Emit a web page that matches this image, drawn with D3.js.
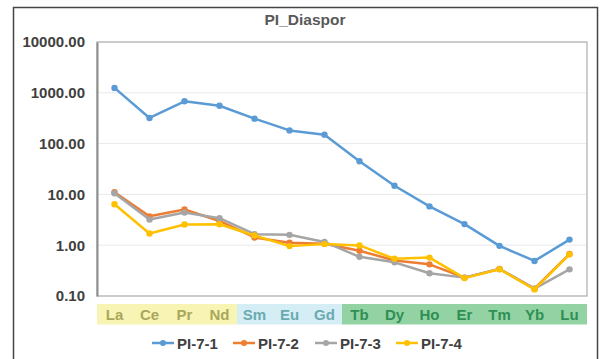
<!DOCTYPE html>
<html>
<head>
<meta charset="utf-8">
<script src="https://cdn.jsdelivr.net/npm/d3@7"></script>
<style>
  html, body { margin: 0; padding: 0; background: #fff; }
  svg { display: block; font-family: "Liberation Sans", Arial, sans-serif; }
</style>
</head>
<body>
<svg id="chart" width="601" height="359"></svg>
<script>
// Rare earth elements, chondrite-normalised
const elements = ["La","Ce","Pr","Nd","Sm","Eu","Gd","Tb","Dy","Ho","Er","Tm","Yb","Lu"];
const seriesNames = ["PI-7-1","PI-7-2","PI-7-3","PI-7-4"];
const pi71 = [1250, 320, 680, 555, 310, 182, 150, 45, 14.8, 5.8, 2.6, 0.97, 0.49, 1.29];
const pi72 = [11, 3.7, 5.05, 3.0, 1.42, 1.12, 1.07, 0.78, 0.5, 0.42, 0.23, 0.34, 0.14, 0.67];
const pi73 = [10.5, 3.2, 4.4, 3.4, 1.65, 1.6, 1.16, 0.59, 0.46, 0.28, 0.23, 0.34, 0.14, 0.335];
const pi74 = [6.4, 1.7, 2.56, 2.58, 1.55, 0.96, 1.05, 0.99, 0.54, 0.57, 0.225, 0.336, 0.135, 0.66];
const yTicks = [10000, 1000, 100, 10, 1, 0.1];
const groups = [
  { from: "La", to: "Nd", fill: "#f8f4b3", text: "#a8a85c" },
  { from: "Sm", to: "Gd", fill: "#d5eef5", text: "#6aaab0" },
  { from: "Tb", to: "Lu", fill: "#93d3a3", text: "#2f8f55" }
];
const colors = ["#5b9bd5", "#ed7d31", "#a5a5a5", "#ffc000"];
const seriesData = [pi71, pi72, pi73, pi74];

const svg = d3.select("#chart");
const plot = { left: 97, right: 587, top: 42, bottom: 296 };

// outer frame
svg.append("rect")
  .attr("x", 13.5).attr("y", 7.5).attr("width", 584).attr("height", 360)
  .attr("fill", "#fff").attr("stroke", "#444").attr("stroke-width", 1.5);

const x = d3.scaleBand().domain(elements).range([plot.left, plot.right]).padding(0);
const y = d3.scaleLog().domain([0.1, 10000]).range([plot.bottom, plot.top]);

// title
svg.append("text")
  .attr("x", 305).attr("y", 25)
  .attr("text-anchor", "middle")
  .attr("font-size", 15.5).attr("font-weight", "bold")
  .attr("fill", "#595959")
  .text("PI_Diaspor");

// gridlines
svg.append("g")
  .selectAll("line")
  .data(yTicks)
  .join("line")
  .attr("x1", plot.left).attr("x2", plot.right)
  .attr("y1", d => y(d)).attr("y2", d => y(d))
  .attr("stroke", "#e9e9e9").attr("stroke-width", 1);

// plot border
svg.append("rect")
  .attr("x", plot.left).attr("y", plot.top)
  .attr("width", plot.right - plot.left).attr("height", plot.bottom - plot.top)
  .attr("fill", "none").attr("stroke", "#b0b0b0").attr("stroke-width", 1.2);

// y axis
const yAxis = d3.axisLeft(y).tickValues(yTicks).tickFormat(d3.format(".2f")).tickSize(0).tickPadding(12);
const yg = svg.append("g").attr("transform", `translate(${plot.left},0)`).call(yAxis);
yg.select(".domain").attr("stroke", "#8c8c8c").attr("stroke-width", 2);
yg.selectAll("text")
  .attr("font-size", 15).attr("font-weight", "bold")
  .attr("fill", "#404040")
  .attr("font-family", "'Liberation Sans', Arial, sans-serif");

// element group bands
const bandTop = 304, bandH = 20.5;
groups.forEach(g => {
  const i0 = elements.indexOf(g.from), i1 = elements.indexOf(g.to);
  const x0 = x(elements[i0]), x1 = x(elements[i1]) + x.bandwidth();
  svg.append("rect")
    .attr("x", x0).attr("y", bandTop).attr("width", x1 - x0).attr("height", bandH)
    .attr("fill", g.fill);
  svg.append("g")
    .selectAll("text")
    .data(elements.slice(i0, i1 + 1))
    .join("text")
    .attr("x", d => x(d) + x.bandwidth() / 2)
    .attr("y", bandTop + 15.5)
    .attr("text-anchor", "middle")
    .attr("font-size", 15).attr("font-weight", "bold")
    .attr("fill", g.text)
    .text(d => d);
});

// series lines and markers
const line = d3.line()
  .x((d, i) => x(elements[i]) + x.bandwidth() / 2)
  .y(d => y(d));

seriesData.forEach((vals, s) => {
  const g = svg.append("g");
  g.append("path")
    .datum(vals)
    .attr("d", line)
    .attr("fill", "none")
    .attr("stroke", colors[s])
    .attr("stroke-width", 2.5)
    .attr("stroke-linejoin", "round");
  g.selectAll("circle")
    .data(vals)
    .join("circle")
    .attr("cx", (d, i) => x(elements[i]) + x.bandwidth() / 2)
    .attr("cy", d => y(d))
    .attr("r", 3.2)
    .attr("fill", colors[s]);
});

// legend
const legendX = [152, 233, 315, 396];
const legendY = 343;
const lg = svg.append("g");
seriesNames.forEach((name, s) => {
  const gx = legendX[s];
  lg.append("line")
    .attr("x1", gx).attr("x2", gx + 22)
    .attr("y1", legendY).attr("y2", legendY)
    .attr("stroke", colors[s]).attr("stroke-width", 2.5);
  lg.append("circle")
    .attr("cx", gx + 11).attr("cy", legendY).attr("r", 3)
    .attr("fill", colors[s]);
  lg.append("text")
    .attr("x", gx + 25).attr("y", legendY + 5.5)
    .attr("font-size", 15).attr("font-weight", "bold")
    .attr("fill", "#404040")
    .text(name);
});
</script>
</body>
</html>
